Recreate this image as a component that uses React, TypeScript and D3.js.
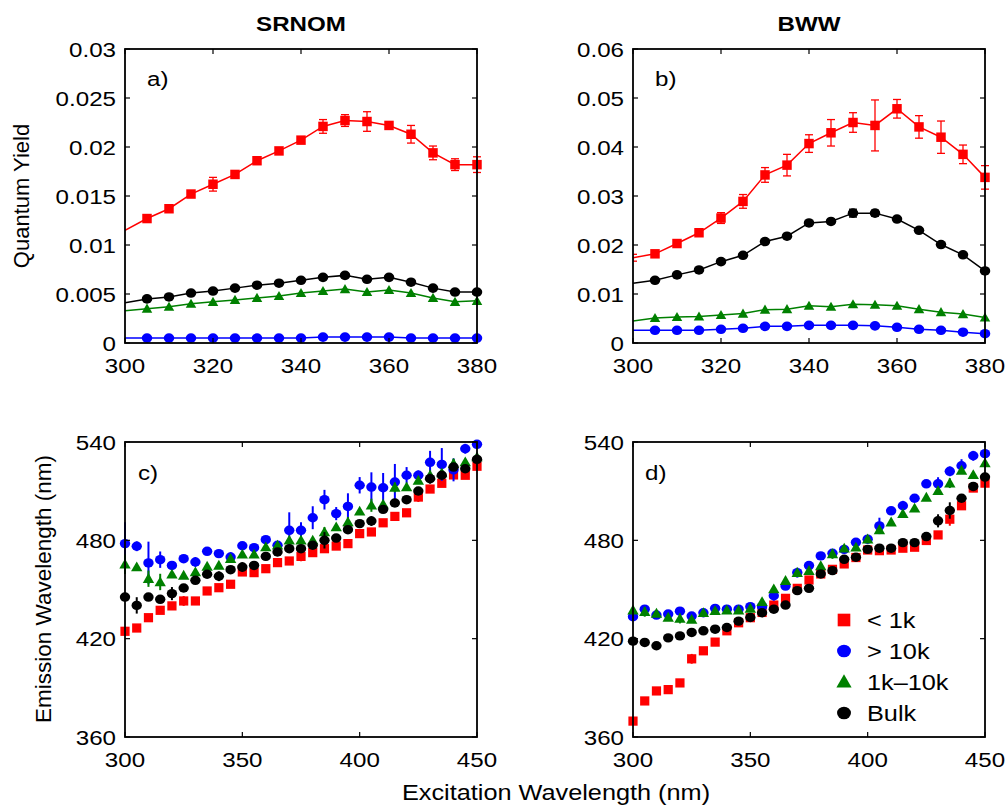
import React from 'react';
import * as d3 from 'd3';

// ---------- data ----------
const qyX = [300, 305, 310, 315, 320, 325, 330, 335, 340, 345, 350, 355, 360, 365, 370, 375, 380];
const emX = [300, 305, 310, 315, 320, 325, 330, 335, 340, 345, 350, 355, 360, 365, 370, 375, 380, 385, 390, 395, 400, 405, 410, 415, 420, 425, 430, 435, 440, 445, 450];

// panel a (SRNOM quantum yield)
const aLow = [0.0115, 0.0127, 0.0137, 0.0152, 0.0162, 0.0172, 0.0186, 0.0196, 0.0207, 0.0221, 0.0227, 0.0226, 0.0222, 0.0213, 0.0194, 0.0182, 0.0182];
const aLowErr = [0, 0.0002, 0.0002, 0.0002, 0.0007, 0.0002, 0.0002, 0.0003, 0.0003, 0.0007, 0.0006, 0.001, 0.0003, 0.0009, 0.0007, 0.0006, 0.0008];
const aHigh = [0.0005, 0.0005, 0.0005, 0.0005, 0.0005, 0.0005, 0.0005, 0.0005, 0.0005, 0.0006, 0.0006, 0.0006, 0.0006, 0.0005, 0.0005, 0.0005, 0.0005];
const aMid = [0.0033, 0.0035, 0.0037, 0.004, 0.0042, 0.0044, 0.0046, 0.0048, 0.0051, 0.0053, 0.0055, 0.0052, 0.0054, 0.0051, 0.0046, 0.0042, 0.0043];
const aBulk = [0.0041, 0.0045, 0.0047, 0.0051, 0.0053, 0.0056, 0.0059, 0.0061, 0.0064, 0.0067, 0.0069, 0.0065, 0.0067, 0.0062, 0.0056, 0.0052, 0.0052];

// panel b (BWW quantum yield)
const bLow = [0.0174, 0.0182, 0.0203, 0.0225, 0.0255, 0.0289, 0.0343, 0.0363, 0.0407, 0.0429, 0.045, 0.0444, 0.0478, 0.0441, 0.042, 0.0385, 0.0338];
const bLowErr = [0.0007, 0.0005, 0.0005, 0.0006, 0.0011, 0.0014, 0.0015, 0.0022, 0.0018, 0.0027, 0.002, 0.0052, 0.0019, 0.0023, 0.0033, 0.0019, 0.0024];
const bHigh = [0.0026, 0.0026, 0.0026, 0.0026, 0.0028, 0.003, 0.0034, 0.0034, 0.0036, 0.0036, 0.0036, 0.0035, 0.0032, 0.0028, 0.0026, 0.0022, 0.0019];
const bMid = [0.0045, 0.0051, 0.0053, 0.0054, 0.0057, 0.006, 0.0068, 0.0069, 0.0076, 0.0074, 0.0079, 0.0078, 0.0076, 0.0069, 0.0063, 0.0059, 0.0052];
const bBulk = [0.0122, 0.0128, 0.0139, 0.0149, 0.0166, 0.0179, 0.0207, 0.0218, 0.0245, 0.0248, 0.0265, 0.0265, 0.0253, 0.023, 0.0201, 0.018, 0.0147];
const bBulkErr = [0, 0.0003, 0.0003, 0.0003, 0.0003, 0.0003, 0.0003, 0.0004, 0.0004, 0.0004, 0.0008, 0.0006, 0.0004, 0.0003, 0.0003, 0.0003, 0.0003];

// panel c (SRNOM emission wavelength)
const cLow = [424.5, 426.5, 432.8, 437.3, 440, 443, 443, 449.1, 451.1, 453.2, 460.7, 460.3, 462.7, 466.4, 467.4, 470.2, 472.5, 474.9, 476.5, 478, 484.1, 485.1, 490.7, 494.6, 496.8, 506.4, 511.3, 514.8, 519.9, 519.7, 525.2];
const cLowErr = [0, 0, 2, 2, 0, 3, 0, 0, 0, 0, 0, 0, 0, 0, 0, 3, 0, 0, 0, 0, 0, 0, 0, 0, 0, 3, 0, 2, 0, 2, 0];
const cHigh = [478, 476.4, 466.2, 468.2, 464.7, 468.8, 466.8, 473.3, 471.9, 469.8, 476.7, 475.5, 480.4, 477, 486.1, 486.1, 493.8, 504.8, 496.3, 500.7, 513.6, 512.5, 512.1, 515.6, 519.7, 519.7, 527.6, 526.3, 523, 535.9, 538.6];
const cHighErr = [13, 3, 13, 5, 2, 0, 3, 0, 0, 3, 0, 2, 2, 0, 11, 5, 7, 6, 4, 8, 5, 9, 9, 11, 5, 3, 7, 10, 7, 3, 2];
const cMid = [465.4, 463.7, 456.6, 454.6, 459.3, 458.6, 460.7, 464.1, 464.7, 468.8, 471.5, 471.5, 475.9, 477, 480, 480, 480, 485.1, 488.1, 491.2, 497.7, 501.4, 502, 512.3, 512.5, 516.6, 519.7, 521.1, 526.8, 527.8, 530.8];
const cMidErr = [6, 0, 5, 5, 0, 0, 0, 0, 0, 0, 0, 0, 0, 2, 0, 0, 0, 3, 0, 3, 0, 4, 0, 3, 0, 0, 3, 0, 3, 0, 0];
const cBulk = [445.4, 440.3, 445.4, 444, 447.5, 450.9, 455.6, 459.3, 458.1, 462.1, 463.7, 464.7, 470.2, 472.9, 474.9, 474.9, 477, 480, 481.4, 486.5, 490.2, 491.8, 498.9, 502.8, 504.8, 510.1, 517.6, 519.7, 524.7, 523.7, 529.4];
const cBulkErr = [0, 5, 0, 0, 4, 0, 0, 0, 3, 0, 3, 0, 0, 0, 0, 0, 0, 5, 0, 0, 0, 3, 0, 0, 0, 0, 3, 0, 0, 0, 0];

// panel d (BWW emission wavelength)
const dLow = [369.7, 382, 388.1, 388.9, 393, 407.7, 412.6, 417.9, 424.8, 429.7, 432.8, 436, 440.5, 444.6, 450.7, 455.8, 459.5, 462.3, 465.6, 469.5, 474.1, 473.7, 474.1, 475.2, 475.8, 479.9, 483.3, 492.9, 501.1, 511.9, 514.9];
const dLowErr = [0, 0, 0, 0, 2, 3, 0, 0, 0, 2, 0, 0, 0, 0, 0, 0, 0, 0, 0, 0, 0, 0, 0, 0, 0, 0, 0, 4, 0, 0, 0];
const dHigh = [433.4, 438, 434.4, 435, 436.8, 433.8, 435.8, 438.5, 438, 438, 439.5, 439.5, 446.2, 452.1, 460.3, 464.6, 470.5, 472.1, 474.5, 478.8, 480.7, 488.8, 498, 501.1, 505.7, 514.5, 514.5, 522.1, 525.5, 531.6, 532.9];
const dHighErr = [0, 0, 0, 0, 0, 0, 0, 0, 0, 0, 0, 0, 3, 0, 3, 2, 2, 2, 0, 0, 0, 5, 0, 3, 0, 0, 4, 3, 4, 3, 0];
const dMid = [437.4, 436.4, 435.4, 433, 432.3, 431.7, 435.8, 437, 437.4, 437.4, 438.5, 442.5, 450.3, 455.4, 460.3, 461.5, 464.4, 471.7, 475.2, 475.8, 480.7, 486.4, 491.1, 496.2, 499.6, 506.2, 510.2, 514.9, 522.7, 520, 527.2];
const dMidErr = [0, 3, 0, 2, 3, 0, 0, 0, 0, 0, 0, 0, 0, 0, 0, 0, 0, 3, 0, 2, 0, 0, 0, 0, 0, 0, 0, 3, 2, 0, 0];
const dBulk = [418.5, 417.7, 415.7, 420.5, 421.7, 423.8, 424.8, 425.8, 426.8, 430.7, 432.9, 435.8, 438, 440.5, 449.3, 450.7, 459.5, 461.5, 468.4, 469.7, 474.5, 475.2, 475.2, 478.6, 478.6, 482.3, 491.9, 498.2, 505.7, 512.9, 518.6];
const dBulkErr = [0, 0, 0, 0, 0, 0, 0, 0, 0, 2, 0, 0, 0, 0, 0, 0, 0, 0, 0, 0, 0, 0, 0, 0, 0, 0, 4, 5, 0, 0, 0];

// ticks
const qyXTicks = [300, 320, 340, 360, 380];
const emXTicks = [300, 350, 400, 450];
const aYTicks = [0, 0.005, 0.01, 0.015, 0.02, 0.025, 0.03];
const bYTicks = [0, 0.01, 0.02, 0.03, 0.04, 0.05, 0.06];
const emYTicks = [360, 420, 480, 540];

const legendNames = ['< 1k', '> 10k', '1k\u201310k', 'Bulk'];
const colors = ['#ff0000', '#0000ff', '#008000', '#000000'];
const shapes: Shape[] = ['square', 'circle', 'triangle', 'circle'];

// ---------- drawing ----------
type Shape = 'square' | 'circle' | 'triangle';
const SX = 1.15;
const FONT = '"Liberation Sans", Arial, Helvetica, sans-serif';

interface Series { vals: number[]; errs: number[] | null; idx: number; }
interface Box { x0: number; x1: number; y0: number; y1: number; }

const symType = (s: Shape) => (s === 'square' ? d3.symbolSquare : s === 'circle' ? d3.symbolCircle : d3.symbolTriangle);

function Marker({ x, y, shape, color, sizes }: { x: number; y: number; shape: Shape; color: string; sizes: Record<Shape, number> }) {
  const d = d3.symbol().type(symType(shape)).size(sizes[shape])() as string;
  const sx = shape === 'circle' ? 1.1 : 1;
  const dy = shape === 'triangle' ? 1 : 0;
  return <path d={d} fill={color} transform={`translate(${x},${y + dy}) scale(${sx},1)`} />;
}

function T({ x, y, children, anchor = 'start', size = 21, weight = 'normal', dy = '0' }: any) {
  return (
    <text transform={`translate(${x},${y}) scale(${SX},1)`} textAnchor={anchor} fontSize={size} fontWeight={weight}
      fontFamily={FONT} dy={dy} fill="#000">{children}</text>
  );
}

function Panel({ id, box, xs, xDomain, xTicks, yDomain, yTicks, series, connect, label, labelX, labelY, sizes }: any) {
  const x = d3.scaleLinear().domain(xDomain).range([box.x0, box.x1]);
  const y = d3.scaleLinear().domain(yDomain).range([box.y1, box.y0]);
  const tl = 5;
  const fmt = (v: number) => String(+v.toFixed(4));
  const line = d3.line<number>().x((_, i) => x(xs[i])).y((d) => y(d));
  return (
    <g>
      <defs>
        <clipPath id={`clip-${id}`}>
          <rect x={box.x0} y={box.y0 - 20} width={box.x1 - box.x0 + 20} height={box.y1 - box.y0 + 40} />
        </clipPath>
      </defs>
      <g clipPath={connect ? `url(#clip-${id})` : undefined}>
        {(series as Series[]).map((s, si) => {
          const c = colors[s.idx];
          return (
            <g key={si}>
              {connect && <path d={line(s.vals) as string} fill="none" stroke={c} strokeWidth={1.5} />}
              {s.errs && s.vals.map((v, i) => {
                const e = s.errs![i];
                if (!e) return null;
                const px = x(xs[i]);
                return (
                  <g key={'e' + i} stroke={c} strokeWidth={connect ? 1.3 : 2}>
                    <line x1={px} x2={px} y1={y(v - e)} y2={y(v + e)} />
                    {connect && <line x1={px - 4} x2={px + 4} y1={y(v - e)} y2={y(v - e)} />}
                    {connect && <line x1={px - 4} x2={px + 4} y1={y(v + e)} y2={y(v + e)} />}
                  </g>
                );
              })}
              {s.vals.map((v, i) => (connect && i === 0 ? null :
                <Marker key={i} x={x(xs[i])} y={y(v)} shape={shapes[s.idx]} color={c} sizes={sizes} />))}
            </g>
          );
        })}
      </g>
      {/* axes box */}
      <rect x={box.x0} y={box.y0} width={box.x1 - box.x0} height={box.y1 - box.y0} fill="none" stroke="#000" strokeWidth={1.8} />
      {xTicks.map((t: number) => (
        <g key={'xt' + t}>
          <line x1={x(t)} x2={x(t)} y1={box.y1} y2={box.y1 - tl} stroke="#000" strokeWidth={1.2} />
          <line x1={x(t)} x2={x(t)} y1={box.y0} y2={box.y0 + tl} stroke="#000" strokeWidth={1.2} />
          <T x={x(t)} y={box.y1 + 30} anchor="middle">{String(t)}</T>
        </g>
      ))}
      {yTicks.map((t: number) => (
        <g key={'yt' + t}>
          <line x1={box.x0} x2={box.x0 + tl} y1={y(t)} y2={y(t)} stroke="#000" strokeWidth={1.2} />
          <line x1={box.x1} x2={box.x1 - tl} y1={y(t)} y2={y(t)} stroke="#000" strokeWidth={1.2} />
          <T x={box.x0 - 9} y={y(t)} anchor="end" dy="0.36em">{fmt(t)}</T>
        </g>
      ))}
      <T x={labelX} y={labelY}>{label}</T>
    </g>
  );
}

export default function App() {
  const pa: Box = { x0: 125, x1: 477, y0: 49, y1: 343 };
  const pb: Box = { x0: 633, x1: 985, y0: 49, y1: 343 };
  const pc: Box = { x0: 125, x1: 477, y0: 442, y1: 737 };
  const pd: Box = { x0: 633, x1: 985, y0: 442, y1: 737 };
  const qySizes = { square: 90, circle: 72, triangle: 48 };
  const emSizes = { square: 85, circle: 70, triangle: 56 };
  const legSizes = { square: 160, circle: 125, triangle: 100 };

  const aSeries: Series[] = [
    { vals: aLow, errs: aLowErr, idx: 0 },
    { vals: aBulk, errs: null, idx: 3 },
    { vals: aMid, errs: null, idx: 2 },
    { vals: aHigh, errs: null, idx: 1 },
  ];
  const bSeries: Series[] = [
    { vals: bLow, errs: bLowErr, idx: 0 },
    { vals: bBulk, errs: bBulkErr, idx: 3 },
    { vals: bMid, errs: null, idx: 2 },
    { vals: bHigh, errs: null, idx: 1 },
  ];
  const cSeries: Series[] = [
    { vals: cLow, errs: cLowErr, idx: 0 },
    { vals: cHigh, errs: cHighErr, idx: 1 },
    { vals: cMid, errs: cMidErr, idx: 2 },
    { vals: cBulk, errs: cBulkErr, idx: 3 },
  ];
  const dSeries: Series[] = [
    { vals: dLow, errs: dLowErr, idx: 0 },
    { vals: dHigh, errs: dHighErr, idx: 1 },
    { vals: dMid, errs: dMidErr, idx: 2 },
    { vals: dBulk, errs: dBulkErr, idx: 3 },
  ];

  return (
    <svg width={1008} height={805} style={{ position: 'absolute', left: 0, top: 0, background: '#fff' }}>
      <rect x={0} y={0} width={1008} height={805} fill="#fff" />
      <T x={(pa.x0 + pa.x1) / 2} y={31} anchor="middle" weight="bold" size={21}>SRNOM</T>
      <T x={(pb.x0 + pb.x1) / 2} y={31} anchor="middle" weight="bold" size={21}>BWW</T>

      <Panel id="a" box={pa} xs={qyX} xDomain={[300, 380]} xTicks={qyXTicks} yDomain={[0, 0.03]} yTicks={aYTicks}
        series={aSeries} connect label="a)" labelX={147} labelY={86} sizes={qySizes} />
      <Panel id="b" box={pb} xs={qyX} xDomain={[300, 380]} xTicks={qyXTicks} yDomain={[0, 0.06]} yTicks={bYTicks}
        series={bSeries} connect label="b)" labelX={655} labelY={86} sizes={qySizes} />
      <Panel id="c" box={pc} xs={emX} xDomain={[300, 450]} xTicks={emXTicks} yDomain={[360, 540]} yTicks={emYTicks}
        series={cSeries} connect={false} label="c)" labelX={138} labelY={480} sizes={emSizes} />
      <Panel id="d" box={pd} xs={emX} xDomain={[300, 450]} xTicks={emXTicks} yDomain={[360, 540]} yTicks={emYTicks}
        series={dSeries} connect={false} label="d)" labelX={645} labelY={480} sizes={emSizes} />

      {/* axis titles */}
      <text transform={`translate(29,196) rotate(-90)`} textAnchor="middle" fontSize={22} fontFamily={FONT}>Quantum Yield</text>
      <text transform={`translate(51,589) rotate(-90)`} textAnchor="middle" fontSize={22.5} fontFamily={FONT}>Emission Wavelength (nm)</text>
      <T x={556} y={800} anchor="middle" size={22}>Excitation Wavelength (nm)</T>

      {/* legend */}
      {legendNames.map((n, i) => {
        const ly = 620 + i * 31;
        return (
          <g key={n}>
            <Marker x={844} y={ly} shape={shapes[i]} color={colors[i]} sizes={legSizes} />
            <T x={867} y={ly} dy="0.36em" size={22}>{n}</T>
          </g>
        );
      })}
    </svg>
  );
}
